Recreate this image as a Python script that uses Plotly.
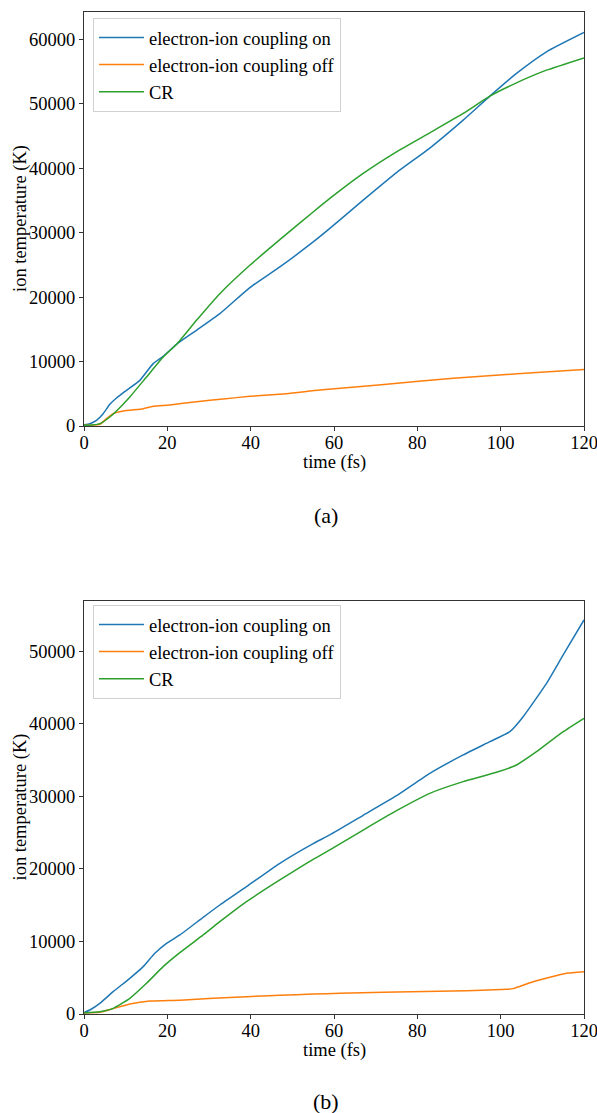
import plotly.graph_objects as go

# ---------------- Panel (a) ----------------
time_a_on = [0, 1.4, 3, 4.6, 6.2, 7.8, 10.2, 13.4, 16.6, 19, 22.2, 27, 32.6, 39.8, 47, 55, 59, 67, 75, 83, 91, 97.4, 103.8, 111, 120]
temp_a_on = [200, 360, 880, 1900, 3360, 4340, 5530, 7080, 9670, 10800, 12670, 14840, 17420, 21460, 24660, 28540, 30640, 35030, 39300, 43100, 47430, 51150, 54670, 58020, 61020]

time_a_off = [0, 2, 3.8, 5.4, 7, 9.4, 14.2, 16.6, 20.6, 27, 33.4, 39.8, 48.6, 56.6, 72, 88.6, 104, 120]
temp_a_off = [100, 150, 260, 1140, 1910, 2330, 2690, 3050, 3260, 3770, 4190, 4600, 5010, 5580, 6450, 7390, 8100, 8780]

time_a_cr = [0, 2, 3.8, 6.2, 7.8, 11, 15, 19, 22.2, 27, 32.6, 39.8, 47, 55, 59, 67, 75, 83, 91, 97.4, 103.8, 111, 120]
temp_a_cr = [100, 150, 360, 1400, 2330, 4500, 7600, 10700, 12670, 16390, 20520, 24920, 28900, 33190, 35290, 39170, 42520, 45470, 48470, 51150, 53220, 55180, 57090]

# ---------------- Panel (b) ----------------
time_b_on = [0, 1.4, 3.8, 7, 11, 14.2, 17, 19.8, 23, 28.6, 32.6, 39, 47, 55, 59, 67, 75, 83, 91, 97.4, 102.2, 105.4, 111, 115, 120]
temp_b_on = [200, 550, 1470, 3080, 4920, 6530, 8370, 9750, 10900, 13330, 15030, 17560, 20780, 23500, 24700, 27400, 30100, 33190, 35720, 37550, 38930, 41000, 45600, 49510, 54330]

time_b_off = [0, 3.8, 7, 11, 15.8, 19, 23, 31, 39, 47, 55, 61.4, 71.8, 91.8, 101.4, 103, 107.8, 115.8, 120]
temp_b_off = [150, 230, 740, 1380, 1790, 1840, 1880, 2160, 2390, 2570, 2760, 2850, 2990, 3220, 3400, 3500, 4460, 5610, 5840]

time_b_cr = [0, 3.8, 7, 11, 15, 19, 23, 28.6, 32.6, 39, 47, 55, 59, 67, 75, 83, 91, 99, 103.8, 108.6, 115, 120]
temp_b_cr = [150, 320, 780, 2160, 4230, 6530, 8460, 10900, 12730, 15490, 18480, 21330, 22620, 25370, 28040, 30430, 32040, 33330, 34340, 36170, 38930, 40780]

labels = ["electron-ion coupling on", "electron-ion coupling off", "CR"]
colors = ["#1f77b4", "#ff7f0e", "#2ca02c"]
x_ticks = [0, 20, 40, 60, 80, 100, 120]
y_ticks_a = [0, 10000, 20000, 30000, 40000, 50000, 60000]
y_ticks_b = [0, 10000, 20000, 30000, 40000, 50000]

FONT = "Times New Roman, Liberation Serif, DejaVu Serif, serif"
FS = 18.5
AX = "#333333"

fig = go.Figure()
series_a = [(time_a_on, temp_a_on), (time_a_off, temp_a_off), (time_a_cr, temp_a_cr)]
series_b = [(time_b_on, temp_b_on), (time_b_off, temp_b_off), (time_b_cr, temp_b_cr)]
for (t, v), lab, c in zip(series_a, labels, colors):
    fig.add_trace(go.Scatter(x=t, y=v, mode="lines", name=lab, line=dict(color=c, width=1.5, shape="spline", smoothing=0.5),
                             xaxis="x", yaxis="y", legend="legend"))
for (t, v), lab, c in zip(series_b, labels, colors):
    fig.add_trace(go.Scatter(x=t, y=v, mode="lines", name=lab, line=dict(color=c, width=1.5, shape="spline", smoothing=0.5),
                             xaxis="x2", yaxis="y2", legend="legend2"))

axis_common = dict(showline=True, linecolor=AX, linewidth=1, mirror=True, ticks="outside", ticklen=4,
                   tickcolor=AX, tickwidth=1, showgrid=False, zeroline=False, tickformat="d",
                   ticklabeloverflow="allow", automargin=False,
                   tickfont=dict(family=FONT, size=FS, color="#000"))
x_extra = dict(ticklabelstandoff=-4)

top_lo = (1014 - 426) / 1002
bot_hi = (1014 - 601) / 1002

legend_common = dict(xanchor="left", yanchor="top", bgcolor="white", bordercolor="#d0d0d0",
                     borderwidth=1, font=dict(family=FONT, size=FS, color="#000"), tracegroupgap=0,
                     itemwidth=45)

fig.update_layout(
    width=597, height=1113,
    margin=dict(l=84, r=13, t=12, b=99, autoexpand=False),
    paper_bgcolor="white", plot_bgcolor="white",
    font=dict(family=FONT, size=FS, color="#000"),
    xaxis=dict(domain=[0, 1], range=[0, 120], tickvals=x_ticks, anchor="y", **axis_common, **x_extra),
    yaxis=dict(domain=[top_lo, 1], range=[0, 64200], tickvals=y_ticks_a, anchor="x", **axis_common),
    xaxis2=dict(domain=[0, 1], range=[0, 120], tickvals=x_ticks, anchor="y2", **axis_common, **x_extra),
    yaxis2=dict(domain=[0, bot_hi], range=[0, 56950], tickvals=y_ticks_b, anchor="x2", **axis_common),
    legend=dict(x=0.018, y=(1014 - 18) / 1002, **legend_common),
    legend2=dict(x=0.018, y=(1014 - 605) / 1002, **legend_common),
    showlegend=True,
)

ann = dict(xref="paper", yref="paper", showarrow=False, font=dict(family=FONT, size=FS, color="#000"))
fig.add_annotation(text="ion temperature (K)", x=(20 - 84) / 500, y=(1014 - 219) / 1002, textangle=-90,
                   xanchor="center", yanchor="middle", **ann)
fig.add_annotation(text="ion temperature (K)", x=(20 - 84) / 500, y=(1014 - 807.5) / 1002, textangle=-90,
                   xanchor="center", yanchor="middle", **ann)
fig.add_annotation(text="time (fs)", x=0.5, y=(1014 - 462) / 1002, xanchor="center", yanchor="middle", **ann)
fig.add_annotation(text="time (fs)", x=0.5, y=(1014 - 1050) / 1002, xanchor="center", yanchor="middle", **ann)
cap = dict(xref="paper", yref="paper", showarrow=False, xanchor="center", yanchor="middle",
           font=dict(family=FONT, size=22, color="#000"), borderpad=0)
fig.add_annotation(text="(a)", x=(326 - 84) / 500, y=(1014 - 515) / 1002, **cap)
fig.add_annotation(text="(b)", x=(326 - 84) / 500, y=(1014 - 1101) / 1002, **cap)

fig.write_html("out.html")
